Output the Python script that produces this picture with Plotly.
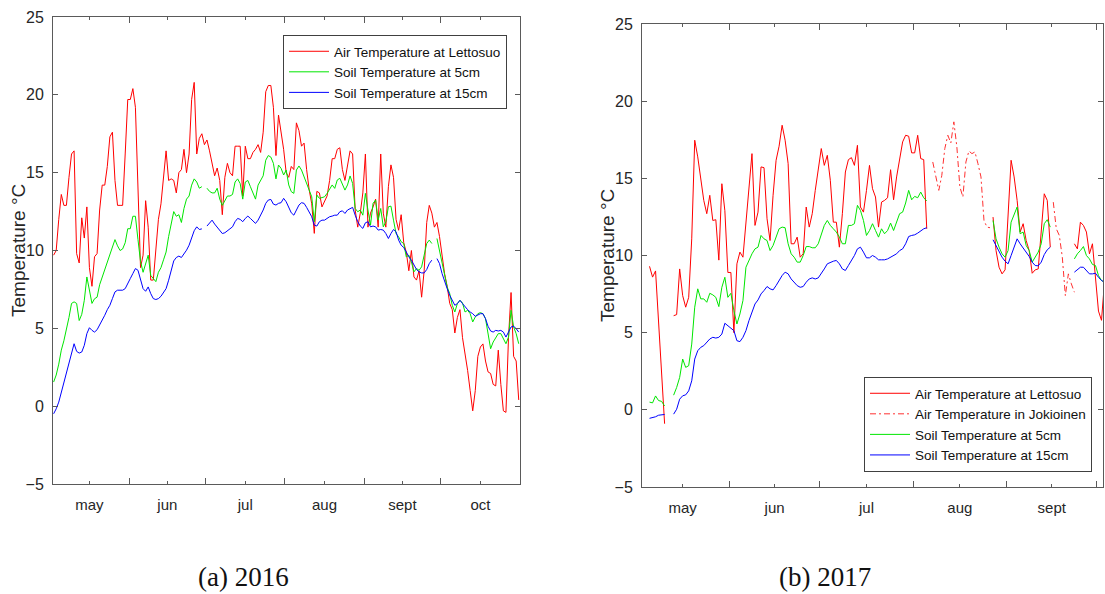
import plotly.graph_objects as go
import pandas as pd

# ---------------- 2016 (daily values from 2 May) ----------------
START_2016 = "2016-05-02 12:00"
air_2016 = [
    9.7, 10.0, 12.0, 13.6, 12.9, 12.9, 14.7, 16.2, 16.4, 9.8,
    9.2, 12.1, 10.8, 12.8, 8.9, 7.7, 9.6, 9.8, 12.6, 14.2,
    14.2, 15.4, 17.3, 17.6, 14.5, 12.9, 12.9, 12.9, 16.2, 19.7,
    19.7, 20.4, 19.2, 13.5, 8.9, 9.7, 13.2, 11.5, 8.1, 8.1,
    10.0, 12.0, 13.0, 14.5, 16.4, 14.5, 14.6, 14.5, 13.7, 15.0,
    15.2, 16.5, 15.0, 16.2, 19.7, 20.8, 16.2, 17.2, 17.5, 16.8,
    17.1, 16.4, 15.5, 14.8, 15.3, 14.5, 12.3, 14.7, 15.6, 15.0,
    14.8, 16.7, 16.7, 16.7, 13.5, 16.7, 15.9, 15.9, 16.3, 16.5,
    16.8, 16.3, 17.6, 20.2, 20.6, 20.6, 19.2, 16.1,
    18.7, 17.7, 16.5, 15.0, 14.7, 15.4, 15.2, 18.2, 17.7, 16.7,
    16.9, 15.2, 13.9, 13.0, 11.1, 13.8, 13.7, 12.8, 13.2, 13.5,
    14.5, 15.9, 15.9, 16.5, 16.6, 15.2, 14.5, 15.5, 16.4, 16.2,
    12.6, 11.5, 12.4, 13.7, 16.2, 11.5, 12.4, 12.8, 13.3, 11.5,
    16.2, 12.4, 11.5, 14.1, 15.5, 14.7, 12.0, 11.3, 12.3, 10.5,
    9.9, 8.7, 10.0, 8.3, 8.1, 8.7, 7.0, 8.7, 11.8, 12.9,
    12.4, 11.5, 11.8, 10.9, 9.6, 8.5, 7.7, 6.6, 6.2, 4.7,
    5.7, 6.2, 4.4, 3.4, 2.3, 1.0, -0.3, 1.0, 3.2, 3.8,
    4.0, 2.9, 2.2, 2.1, 1.4, 1.3, 3.6, 1.4, -0.3, -0.4,
    4.4, 7.3, 3.2, 2.9, 0.4,
]
soil5_2016 = [
    1.55, 2.0, 2.7, 3.6, 4.2, 4.9, 5.7, 6.6, 6.7, 6.6,
    5.5, 5.9, 6.8, 8.3, 7.4, 6.6, 6.9, 7.0, 7.8, 8.3,
    8.7, 9.2, 9.7, 10.2, 10.7, 10.3, 10.0, 10.1, 10.5, 11.4,
    11.4, 12.2, 12.2, 10.7, 9.3, 8.6, 9.2, 9.7, 8.4, 8.2,
    8.0, 8.6, 8.9, 9.4, 9.9, 10.9, 11.6, 12.5, 12.2, 12.3,
    11.8, 12.7, 13.3, 13.5, 14.2, 14.6, 14.4, 14.0, 14.1, None,
    14.0, 13.8, 13.7, 13.7, 14.0, 13.3, 12.9, 13.2, 13.5, 13.5,
    13.6, 14.4, 14.6, 14.3, 13.3, 14.4, 14.5, 14.1, 13.7, 13.3,
    14.2, 14.5, 14.8, 15.8, 16.1, 16.0, 15.6, 14.6,
    15.49, 15.28, 14.85, 15.17, 14.21, 13.78, 13.67, 15.17, 15.43, 15.17,
    14.74, 14.3, 13.99, 13.45, 11.85, 13.56, 13.35, 13.39, 13.45, 13.67,
    13.99, 14.21, 13.99, 14.53, 14.64, 14.21, 13.88, 14.21, 14.79, 14.31,
    12.70, 12.49, 12.60, 12.27, 13.67, 12.60, 11.63, 13.03, 13.24, 11.95,
    12.70, 11.52, 11.85, 12.81, 12.85, 11.95, 11.09, 10.88, 10.56, 10.45,
    9.59, 9.70, 9.27, 8.63, 8.84, 8.73, 8.95, 9.70, 10.45, 10.67,
    10.45, None, 10.77, 10.02, 9.16, 8.41, 7.66, 7.23, 6.48, 6.05,
    6.59, 6.80, 6.63, 6.05, 6.16, 5.94, 5.41, 5.73, 5.94, 6.01,
    5.94, 5.62, 4.66, 3.69, 4.12, 4.44, 4.66, 4.66, 4.33, 4.01,
    4.44, 6.16, 5.09, 4.66, 4.01,
]
soil15_2016 = [
    -0.49, -0.17, 0.26, 0.90, 1.55, 2.08, 2.73, 3.37, 4.01, 3.52,
    3.41, 3.48, 3.91, 4.66, 5.04, 4.87, 4.76, 4.91, 5.19, 5.51,
    5.84, 6.20, 6.48, 6.91, 7.34, 7.45, 7.45, 7.45, 7.55, 7.92,
    8.20, 8.52, 8.84, 8.73, 8.09, 7.55, 7.38, 7.66, 7.23, 6.91,
    6.85, 6.91, 7.06, 7.27, 7.55, 8.09, 8.73, 9.33, 9.55, 9.64,
    9.55, 9.76, 10.02, 10.34, 10.82, 11.27, 11.52, 11.35, 11.39, None,
    11.57, 11.74, 11.95, 11.70, 11.48, 11.31, 11.09, 11.14, 11.27, 11.35,
    11.52, 11.85, 12.06, 12.00, 11.85, 12.06, 12.21, 12.06, 11.91, 11.74,
    11.95, 12.27, 12.60, 13.03, 13.24, 13.28, 12.98, 12.92,
    13.03, 13.07, 13.35, 13.13, 12.77, 12.42, 12.27, 12.64, 12.92, 13.07,
    13.03, 12.77, 12.49, 12.17, 11.63, 11.57, 11.85, 11.95, 11.95, 12.06,
    12.17, 12.21, 12.27, 12.27, 12.49, 12.55, 12.38, 12.60, 12.70, 12.77,
    12.27, 11.85, 11.57, 11.42, 11.78, 11.85, 11.52, 11.57, 11.52, 11.31,
    11.35, 11.31, 11.09, 10.77, 11.09, 11.35, 11.20, 10.67, 10.34, 10.19,
    9.91, 9.59, 9.38, 9.06, 8.78, 8.63, 8.56, 8.56, 8.78, 9.16,
    9.38, None, 9.48, 9.16, 8.52, 7.98, 7.55, 7.12, 6.80, 6.48,
    6.59, 6.80, 6.59, 6.37, 6.20, 6.05, 5.94, 5.77, 5.84, 5.94,
    5.94, 5.62, 5.13, 4.83, 4.76, 4.87, 4.83, 4.87, 4.76, 4.44,
    4.76, 5.09, 5.13, 4.98, 4.76,
]

# ---------------- 2017 (daily segments: start date, values) ----------------
air_lettosuo_2017 = [
    ("2017-05-05 12:00", [9.3, 8.6, 9.0, 5.6, 2.3, -0.9]),
    ("2017-05-13 12:00", [
        6.10, 6.17, 9.13, 7.40, 6.65, 7.29, 11.08, 17.47, 16.39, 14.98,
        13.57, 12.71, 13.90, 12.27, 12.32, 9.7, 14.65, 12.9, 8.9, 8.9,
        5.0, 9.46, 10.22, 9.89, 12.27, 14.4, 16.60, 11.95, 12.81, 15.74,
        15.69, 12.38, 10.97, 13.90, 16.17, 17.08, 18.44, 17.47, 15.95, 10.76,
        10.76, 11.19, 9.89, 10.11, 13.14, 11.84, 12.71, 14.22, 15.52, 16.93,
        15.84, 16.49, 14.87, 12.16, 12.16, 10.54, 12.71,
        15.41, 16.21, 16.34, 15.84, 17.14, 13.14, 12.81, 14.22, 15.84, 14.33,
        13.79, 11.84, 13.46, 13.57, 13.74, 15.56, 13.61, 15.09, 16.39, 17.36,
        17.79, 17.73, 16.65, 16.65, 17.79, 16.28, 16.21, 11.73]),
    ("2017-08-27 12:00", [
        12.49, 10.32, 9.24, 8.81, 9.07, 12.27, 16.17, 15.09, 13.57, 11.52,
        12.06, 10.97, 10.32, 8.85, 9.07, 9.13, 11.73, 14.00, 13.57, 10.54]),
    ("2017-09-23 12:00", [10.76, 10.43, 12.16, 11.95, 11.52, 10.11, 10.76, 8.81, 6.4, 5.8, 8.3]),
]
air_jokioinen_2017 = [
    ("2017-08-07 12:00", [
        16.06, 15.19, 14.22, 15.19, 16.93, 17.79, 17.29, 18.66, 17.03, 14.44,
        13.79, 16.06, 16.77, 16.60, 16.71, 15.95, 15.09, 12.27, 11.84, 11.80]),
    ("2017-09-16 12:00", [13.46, 11.73, 11.30, 9.89, 7.40, 8.81, 8.16, 7.62]),
]
soil5_2017 = [
    ("2017-05-05 12:00", [0.5, 0.45, 0.9, 0.6, 0.55, 0.25]),
    ("2017-05-13 12:00", [
        0.95, 1.45, 2.10, 3.29, 2.75, 2.86, 4.26, 6.65, 7.84, 7.19,
        7.19, 6.97, 7.55, 7.45, 7.29, 6.69, 7.94, 8.59, 7.29, 7.55,
        6.43, 5.56, 6.21, 7.08, 9.24, 9.68, 10.11, 10.43, 10.54, 11.30,
        11.08, 10.97, 10.32, 10.65, 11.23, 11.73, 11.84, 11.80, 10.76, 10.11,
        9.89, 9.57, 9.57, 10.00, 10.58, 10.58, 10.50, 10.50, 10.76, 11.41,
        11.95, 12.27, 11.95, 11.73, 11.52, 11.19, 10.76,
        10.76, 11.95, 11.95, 12.06, 13.25, 12.92, 12.27, 11.30, 11.62, 12.06,
        11.62, 11.19, 11.73, 11.41, 11.62, 12.10, 11.62, 12.16, 12.71, 12.81,
        13.40, 14.22, 13.61, 13.83, 13.74, 14.11, 13.74, 13.53]),
    ("2017-08-27 12:00", [
        12.27, 11.08, 10.54, 10.11, 9.89, 10.32, 12.16, 12.71, 13.14, 11.41,
        11.52, 10.65, 10.32, 9.57, 9.89, 10.22, 10.76, 12.06, 12.32, 11.84]),
    ("2017-09-23 12:00", [9.78, 10.11, 10.32, 10.58, 10.00, 9.78, 9.42, 9.35, 8.70, 8.38, 8.27]),
]
soil15_2017 = [
    ("2017-05-05 12:00", [-0.55, -0.52, -0.45, -0.35, -0.3, -0.3]),
    ("2017-05-13 12:00", [
        -0.28, 0.04, 0.69, 0.91, 0.97, 1.23, 1.88, 3.29, 3.83, 4.05,
        4.16, 4.37, 4.59, 4.70, 4.65, 4.70, 4.91, 5.61, 5.45, 5.35,
        5.13, 4.48, 4.42, 4.70, 5.13, 5.78, 6.32, 6.86, 7.12, 7.51,
        7.73, 7.99, 7.84, 7.77, 8.05, 8.38, 8.70, 8.92, 8.81, 8.48,
        8.27, 8.05, 7.94, 7.99, 8.27, 8.48, 8.55, 8.48, 8.55, 8.81,
        9.13, 9.46, 9.57, 9.63, 9.68, 9.46, 9.13,
        9.03, 9.35, 9.68, 10.00, 10.43, 10.54, 10.22, 9.85, 9.85, 10.00,
        9.89, 9.72, 9.72, 9.72, 9.78, 9.89, 10.00, 10.11, 10.32, 10.43,
        10.76, 11.23, 11.30, 11.34, 11.45, 11.62, 11.73, 11.80]),
    ("2017-08-27 12:00", [
        11.02, 10.65, 10.22, 9.89, 9.63, 9.46, 10.00, 10.54, 11.08, 10.76,
        10.48, 10.22, 9.94, 9.57, 9.35, 9.33, 9.57, 10.06, 10.37, 10.54]),
    ("2017-09-23 12:00", [8.92, 9.07, 9.24, 9.24, 9.03, 8.81, 8.81, 8.85, 8.59, 8.38, 8.27]),
]

# axis labels
MONTH_LABELS_2016 = ["may", "jun", "jul", "aug", "sept", "oct"]
MONTH_MIDS_2016 = ["2016-05-16 12:00", "2016-06-16", "2016-07-16 12:00",
                   "2016-08-16 12:00", "2016-09-16", "2016-10-16 12:00"]
MONTH_STARTS_2016 = ["2016-06-01", "2016-07-01", "2016-08-01", "2016-09-01", "2016-10-01"]
MONTH_LABELS_2017 = ["may", "jun", "jul", "aug", "sept"]
MONTH_MIDS_2017 = ["2017-05-16 12:00", "2017-06-16", "2017-07-16 12:00",
                   "2017-08-16 12:00", "2017-09-16"]
MONTH_STARTS_2017 = ["2017-06-01", "2017-07-01", "2017-08-01", "2017-09-01", "2017-10-01"]
Y_TICKS = [-5, 0, 5, 10, 15, 20, 25]

RED = "#ff0000"
GREEN = "#00e600"
BLUE = "#0000ff"
SANS = "Liberation Sans, Arial, sans-serif"
AXIS_COL = "#5a5a5a"
TEXT_COL = "#262626"


def build(segments):
    xs, ys = [], []
    for start, vals in segments:
        if xs:
            xs.append(None)
            ys.append(None)
        xs.extend(list(pd.date_range(start, periods=len(vals), freq="D")))
        ys.extend(vals)
    return xs, ys


fig = go.Figure()

x16 = list(pd.date_range(START_2016, periods=len(air_2016), freq="D"))
fig.add_trace(go.Scatter(x=x16, y=air_2016, mode="lines", name="Air Temperature at Lettosuo",
                         line=dict(color=RED, width=1), xaxis="x", yaxis="y", legend="legend"))
fig.add_trace(go.Scatter(x=x16, y=soil5_2016, mode="lines", name="Soil Temperature at 5cm",
                         line=dict(color=GREEN, width=1), xaxis="x", yaxis="y", legend="legend"))
fig.add_trace(go.Scatter(x=x16, y=soil15_2016, mode="lines", name="Soil Temperature at 15cm",
                         line=dict(color=BLUE, width=1), xaxis="x", yaxis="y", legend="legend"))

xa, ya = build(air_lettosuo_2017)
xj, yj = build(air_jokioinen_2017)
xg, yg = build(soil5_2017)
xb, yb = build(soil15_2017)
fig.add_trace(go.Scatter(x=xa, y=ya, mode="lines", name="Air Temperature at Lettosuo",
                         line=dict(color=RED, width=1), xaxis="x2", yaxis="y2", legend="legend2"))
fig.add_trace(go.Scatter(x=xj, y=yj, mode="lines", name="Air Temperature in Jokioinen",
                         line=dict(color="#ff3030", width=1, dash="6px,3px,2px,3px"),
                         xaxis="x2", yaxis="y2", legend="legend2"))
fig.add_trace(go.Scatter(x=xg, y=yg, mode="lines", name="Soil Temperature at 5cm",
                         line=dict(color=GREEN, width=1), xaxis="x2", yaxis="y2", legend="legend2"))
fig.add_trace(go.Scatter(x=xb, y=yb, mode="lines", name="Soil Temperature at 15cm",
                         line=dict(color=BLUE, width=1), xaxis="x2", yaxis="y2", legend="legend2"))

W, H = 1105, 594


def xaxis_cfg(x0, x1, rng, mids, labels, starts):
    return dict(domain=[x0 / W, x1 / W], range=rng, type="date",
                tickmode="array", tickvals=mids, ticktext=labels,
                ticks="inside", ticklen=3, tickcolor=AXIS_COL,
                minor=dict(tickmode="array", tickvals=starts, ticks="inside",
                           ticklen=6, tickcolor=AXIS_COL, showgrid=False),
                showline=True, linecolor=AXIS_COL, linewidth=1, mirror="allticks",
                showgrid=False, zeroline=False, ticklabelstandoff=7,
                tickfont=dict(family=SANS, size=15, color=TEXT_COL))


def yaxis_cfg(y_top, y_bot, anchor):
    return dict(domain=[1 - y_bot / H, 1 - y_top / H], range=[-5, 25], anchor=anchor,
                tickmode="array", tickvals=Y_TICKS, ticks="inside", ticklen=5,
                tickcolor=AXIS_COL, showline=True, linecolor=AXIS_COL, linewidth=1,
                mirror="allticks", showgrid=False, zeroline=False, ticklabelstandoff=5,
                tickfont=dict(family=SANS, size=16, color=TEXT_COL))


legend_common = dict(bgcolor="white", bordercolor="#404040", borderwidth=1,
                     font=dict(family=SANS, size=13.5, color="#111111"),
                     yanchor="top", xref="paper", yref="paper",
                     itemwidth=40, tracegroupgap=0)

fig.update_layout(
    width=W, height=H, margin=dict(l=0, r=0, t=0, b=0, autoexpand=False),
    paper_bgcolor="white", plot_bgcolor="white", showlegend=True,
    xaxis=xaxis_cfg(53, 520, ["2016-05-02 06:00", "2016-11-01"], MONTH_MIDS_2016,
                    MONTH_LABELS_2016, MONTH_STARTS_2016) | dict(anchor="y"),
    yaxis=yaxis_cfg(17, 484, "x"),
    xaxis2=xaxis_cfg(642, 1103, ["2017-05-03", "2017-10-03"], MONTH_MIDS_2017,
                     MONTH_LABELS_2017, MONTH_STARTS_2017) | dict(anchor="y2"),
    yaxis2=yaxis_cfg(24, 487, "x2"),
    legend=legend_common | dict(x=507 / W, xanchor="right", y=1 - 35 / H),
    legend2=legend_common | dict(x=1092 / W, xanchor="right", y=1 - 377 / H),
    annotations=[
        dict(text="Temperature °C", textangle=-90, x=18 / W, y=1 - 251 / H,
             xref="paper", yref="paper", xanchor="center", yanchor="middle",
             showarrow=False, font=dict(family=SANS, size=19, color=TEXT_COL)),
        dict(text="Temperature °C", textangle=-90, x=607 / W, y=1 - 256 / H,
             xref="paper", yref="paper", xanchor="center", yanchor="middle",
             showarrow=False, font=dict(family=SANS, size=19, color=TEXT_COL)),
        dict(text="(a) 2016", x=243 / W, y=1 - 577 / H, xref="paper", yref="paper",
             xanchor="center", yanchor="middle", showarrow=False,
             font=dict(family="Liberation Serif, DejaVu Serif, serif", size=27, color="#111111")),
        dict(text="(b) 2017", x=825 / W, y=1 - 577 / H, xref="paper", yref="paper",
             xanchor="center", yanchor="middle", showarrow=False,
             font=dict(family="Liberation Serif, DejaVu Serif, serif", size=27, color="#111111")),
    ],
)

fig.write_html("out.html")
